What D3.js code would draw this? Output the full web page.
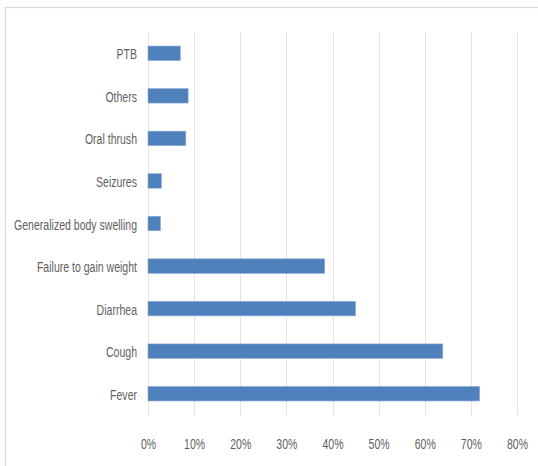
<!DOCTYPE html>
<html>
<head>
<meta charset="utf-8">
<script src="https://cdn.jsdelivr.net/npm/d3@7"></script>
<style>
  html, body { margin: 0; padding: 0; background: #fff; }
  svg { display: block; }
  .lbl { font-family: "Liberation Sans", Arial, sans-serif; fill: #5f5f5f; }
</style>
</head>
<body>
<div id="chart"></div>
<script>
// Presenting symptoms, share of patients
const categories = ["PTB", "Others", "Oral thrush", "Seizures", "Generalized body swelling",
                    "Failure to gain weight", "Diarrhea", "Cough", "Fever"];
const values = [0.070, 0.087, 0.082, 0.029, 0.027, 0.383, 0.450, 0.639, 0.719];
const tickValues = [0, 0.1, 0.2, 0.3, 0.4, 0.5, 0.6, 0.7, 0.8];

const W = 538, H = 466;
const plot = { left: 148, right: 517, top: 32, bottom: 415 };
const labelWidthLongest = 123;   // narrow face: widest category label spans this many px

const svg = d3.select("#chart").append("svg")
  .attr("width", W).attr("height", H);

// chart frame
svg.append("rect")
  .attr("x", 5.5).attr("y", 7.5)
  .attr("width", W + 10).attr("height", H + 10)
  .attr("fill", "none").attr("stroke", "#d9d9d9").attr("stroke-width", 1.2);

const x = d3.scaleLinear().domain([0, 0.8]).range([plot.left, plot.right]);
const y = d3.scaleBand().domain(categories).range([plot.top, plot.bottom]).paddingInner(0.66).paddingOuter(0.33);

// vertical gridlines
svg.append("g").selectAll("line").data(tickValues).join("line")
  .attr("x1", d => Math.round(x(d)) + 0.5).attr("x2", d => Math.round(x(d)) + 0.5)
  .attr("y1", plot.top).attr("y2", plot.bottom)
  .attr("stroke", "#e4e4e4").attr("stroke-width", 1);

// x-axis tick labels
const xAxis = d3.axisBottom(x).tickValues(tickValues).tickFormat(d3.format(".0%")).tickSize(0).tickPadding(0);
const gx = svg.append("g").attr("transform", `translate(0,${plot.bottom + 23})`).call(xAxis);
gx.select(".domain").remove();
gx.selectAll("text").attr("class", "lbl").style("font-size", "15px").attr("dy", "0.35em").attr("y", 6);

// category labels
const yAxis = d3.axisLeft(y).tickSize(0).tickPadding(0);
const gy = svg.append("g").attr("transform", `translate(${plot.left - 11},0)`).call(yAxis);
gy.select(".domain").remove();
gy.selectAll("text").attr("class", "lbl").style("font-size", "15px").attr("dy", "0.4em");

// squeeze labels horizontally to a narrow, condensed look
let widest = 0;
gy.selectAll("text").each(function () { widest = Math.max(widest, this.getComputedTextLength()); });
const k = labelWidthLongest / widest;
gy.selectAll("text").attr("transform", `scale(${k},1)`);
gx.selectAll("text").attr("transform", `scale(${k},1)`);

// bars
svg.append("g").selectAll("rect").data(categories).join("rect")
  .attr("x", x(0))
  .attr("y", d => y(d))
  .attr("width", (d, i) => x(values[i]) - x(0))
  .attr("height", y.bandwidth())
  .attr("fill", "#4f81bd")
  .attr("stroke", "#8eaad6").attr("stroke-width", 0.6);
</script>
</body>
</html>
